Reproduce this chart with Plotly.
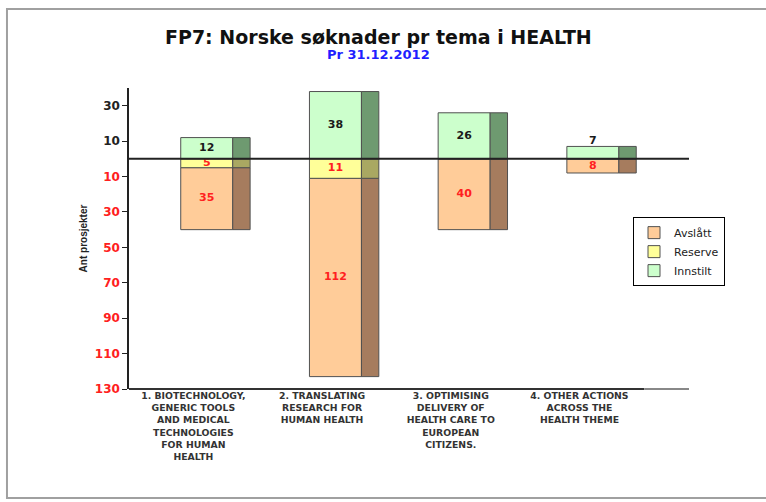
import plotly.graph_objects as go

categories = [
    "1. BIOTECHNOLOGY,<br>GENERIC TOOLS<br>AND MEDICAL<br>TECHNOLOGIES<br>FOR HUMAN<br>HEALTH",
    "2. TRANSLATING<br>RESEARCH FOR<br>HUMAN HEALTH",
    "3. OPTIMISING<br>DELIVERY OF<br>HEALTH CARE TO<br>EUROPEAN<br>CITIZENS.",
    "4. OTHER ACTIONS<br>ACROSS THE<br>HEALTH THEME",
]
innstilt = [12, 38, 26, 7]
reserve = [5, 11, 0, 0]
avslatt = [35, 112, 40, 8]
ytick_vals = [30, 10, -10, -30, -50, -70, -90, -110, -130]

xs = list(range(len(categories)))
FRONT_OFF, FRONT_W = -0.098, 0.404
SIDE_OFF, SIDE_W = 0.306, 0.135
TX = FRONT_OFF + FRONT_W / 2

front = {"Avslått": "#ffcc99", "Reserve": "#ffff99", "Innstilt": "#ccffcc"}
side = {"Avslått": "#a67c5e", "Reserve": "#a9a862", "Innstilt": "#6e9a70"}

neg_res = [-r for r in reserve]
neg_avs = [-a for a in avslatt]
series = [
    ("Avslått", neg_avs, neg_res),
    ("Reserve", neg_res, [0] * 4),
    ("Innstilt", innstilt, [0] * 4),
]

FONT = "DejaVu Sans"

fig = go.Figure()
edge = dict(color="#505050", width=1)
for name, vals, base in series:
    fig.add_trace(go.Bar(x=xs, y=vals, base=base, name=name, offset=FRONT_OFF, width=FRONT_W,
                         marker=dict(color=front[name], line=edge), hoverinfo="skip"))
for name, vals, base in series:
    fig.add_trace(go.Bar(x=xs, y=vals, base=base, name=name, offset=SIDE_OFF, width=SIDE_W,
                         marker=dict(color=side[name], line=edge), showlegend=False, hoverinfo="skip"))

# labels
lab_font = dict(family=FONT, size=11, color="#1a1a1a", weight="bold")
red_font = dict(family=FONT, size=11, color="#ff2020", weight="bold")
gy, gpos = [], []
for v in innstilt:
    if v < 10:
        gy.append(v); gpos.append("top center")
    else:
        gy.append(v / 2); gpos.append("middle center")
fig.add_trace(go.Scatter(x=[i + TX for i in xs], y=gy, mode="text", text=[str(v) for v in innstilt],
                         textposition=gpos, textfont=lab_font, showlegend=False, hoverinfo="skip"))
rx, ry, rt = [], [], []
for i, r in enumerate(reserve):
    if r > 0:
        rx.append(i + TX); ry.append(-r / 2); rt.append(str(r))
for i, a in enumerate(avslatt):
    rx.append(i + TX); ry.append(-reserve[i] - a / 2); rt.append(str(a))
fig.add_trace(go.Scatter(x=rx, y=ry, mode="text", text=rt, textposition="middle center",
                         textfont=red_font, showlegend=False, hoverinfo="skip"))

ticktext = [str(v) if v > 0 else "<span style='color:#ff2020'>%d</span>" % abs(v) for v in ytick_vals]

fig.update_layout(
    width=766, height=502,
    margin=dict(l=129, r=77, t=88, b=113),
    paper_bgcolor="white", plot_bgcolor="white",
    barmode="overlay",
    font=dict(family=FONT, color="#222"),
    showlegend=True,
    legend=dict(x=0.9, y=0.571, xanchor="left", yanchor="top", bgcolor="white",
                bordercolor="#000", borderwidth=1, font=dict(family=FONT, size=11, color="#222"),
                traceorder="normal", itemwidth=30, tracegroupgap=0),
    xaxis=dict(range=[-0.5, 3.851], tickvals=xs, ticktext=categories, showgrid=False,
               zeroline=False, showline=False, ticks="", automargin=False,
               tickfont=dict(family=FONT, size=9.3, color="#333", weight="bold")),
    yaxis=dict(range=[-130, 40], tickvals=ytick_vals, ticktext=ticktext, showgrid=False,
               zeroline=False, showline=True, linecolor="#222", linewidth=1.5, automargin=False,
               ticks="outside", ticklen=5, tickcolor="#222",
               tickfont=dict(family=FONT, size=12, color="#222", weight="bold"),
               title=dict(text="Ant prosjekter", font=dict(family="Arial", size=10, color="#222", weight="bold"),
                          standoff=5)),
    annotations=[
        dict(text="<b>FP7: Norske søknader pr tema i HEALTH</b>", xref="paper", yref="paper",
             x=0.446, y=1.169, showarrow=False, font=dict(family=FONT, size=19, color="#111"),
             xanchor="center", yanchor="middle"),
        dict(text="<b>Pr 31.12.2012</b>", xref="paper", yref="paper",
             x=0.446, y=1.11, showarrow=False, font=dict(family=FONT, size=13, color="#1f1fff"),
             xanchor="center", yanchor="middle"),
    ],
    shapes=[
        dict(type="line", xref="x domain", yref="y", x0=0, x1=1, y0=0, y1=0,
             line=dict(color="#222", width=2), layer="above"),
        dict(type="line", xref="x domain", yref="y domain", x0=0, x1=0.92, y0=0, y1=0,
             line=dict(color="#333", width=2), layer="above"),
        dict(type="line", xref="x domain", yref="y domain", x0=0.92, x1=1, y0=0, y1=0,
             line=dict(color="#888", width=2), layer="above"),
        dict(type="rect", xref="paper", yref="paper", x0=-0.2179, x1=1.6, y0=-0.362, y1=1.2625,
             line=dict(color="#a0a0a0", width=2), layer="below"),
    ],
)

fig.write_html("out.html", config={"displayModeBar": False},
               post_script="document.body.style.margin='0px';")
